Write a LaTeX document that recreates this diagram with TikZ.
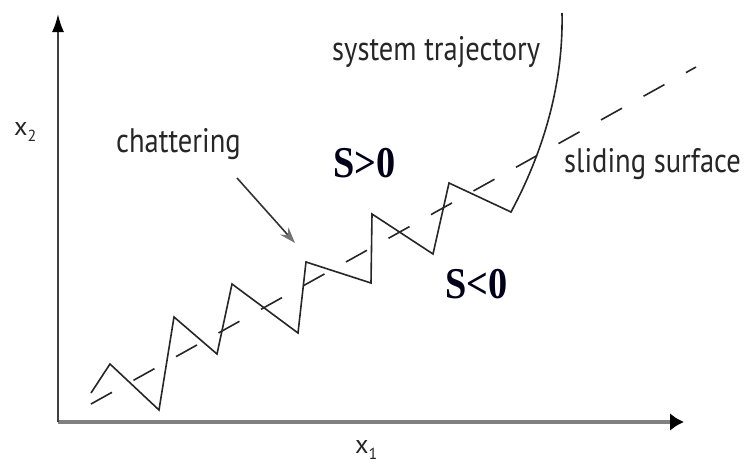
\documentclass[tikz,border=0pt]{standalone}
\usepackage{fontspec}
\newfontfamily\labfont{PT Sans}
\newfontfamily\sgnfont{Liberation Serif}
\usetikzlibrary{arrows.meta}
\begin{document}
\begin{tikzpicture}[x=1pt,y=-1pt,
  lab/.style={font=\labfont\fontsize{34}{40}\selectfont, inner sep=0pt, anchor=base west, text=black!85},
  axlab/.style={font=\labfont\fontsize{26}{30}\selectfont, inner sep=0pt, anchor=base west, text=black!85},
  sgn/.style={font=\sgnfont\bfseries\fontsize{44}{50}\selectfont, inner sep=0pt, anchor=base west, text=black!90!blue},
  traj/.style={line width=1.6pt, black!85, line join=miter},
  surf/.style={line width=1.6pt, black!85, dash pattern=on 24pt off 24.65pt},
  ]
\useasboundingbox (0,0) rectangle (744,463);
% axes
\coordinate (O) at (58,422);
\coordinate (Ytop) at (58,14);
\coordinate (Xend) at (684,422);
\draw[line width=3.5pt, black!50, -{Latex[length=14pt,width=18pt,color=black]}] (O) -- (Xend);
\draw[line width=2pt, black!75, -{Latex[length=18pt,width=12pt,color=black]}] (O) -- (Ytop);
% sliding surface
\coordinate (s0) at (91,404);
\coordinate (s1) at (696,67);
\draw[surf] (s0) -- (s1);
% trajectory
\coordinate (t0) at (91,393);
\coordinate (tEnd) at (562,13);
\draw[traj] (t0) -- (110,364) -- (159,410) -- (174,317) -- (217,354) -- (232,284)
  -- (298,333) -- (306,262) -- (371,283) -- (372,214) -- (433,254) -- (449,183)
  -- (511,212) .. controls (555,130) and (563,60) .. (tEnd);
% chattering arrow
\coordinate (a0) at (237,178);
\coordinate (a1) at (295,243);
\draw[line width=1.6pt, black!80, -{Stealth[length=16pt,width=11pt,color=black!55]}] (a0) -- (a1);
% labels
\node[lab] (chat) at (116,152) {\scalebox{0.84}[1]{chattering}};
\node[lab] (systraj) at (332,60) {\scalebox{0.84}[1]{system trajectory}};
\node[lab] (slide) at (564,172) {\scalebox{0.84}[1]{sliding surface}};
\node[sgn] (spos) at (333,177) {\scalebox{0.87}[1]{S>0}};
\node[sgn] (sneg) at (445,298) {\scalebox{0.87}[1]{S<0}};
\node[axlab] (x2) at (14,135) {x\raisebox{-6pt}{\fontsize{16}{18}\selectfont 2}};
\node[axlab] (x1) at (355,453) {x\raisebox{-6pt}{\fontsize{16}{18}\selectfont 1}};
\end{tikzpicture}
\end{document}
